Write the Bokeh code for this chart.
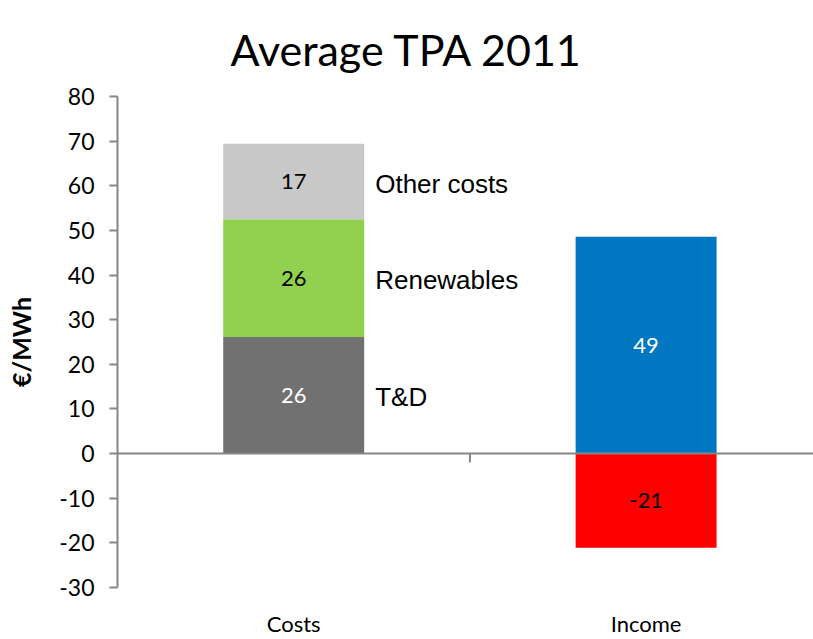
from bokeh.plotting import figure
from bokeh.models import Range1d, FixedTicker, Span, ColumnDataSource
from bokeh.core.properties import value
from bokeh.embed import file_html
from bokeh.resources import INLINE

# ---- data ----
title_text = "Average TPA 2011"
categories = ["Costs", "Income"]
cost_series = ["T&D", "Renewables", "Other costs"]
cost_values = [26.1, 26.4, 16.9]
cost_colors = ["#717171", "#92D050", "#C8C8C8"]
cost_label_colors = ["white", "black", "black"]
income_series = ["Income", "Negative"]
income_values = [48.6, -21.1]
income_colors = ["#0077C0", "#FF0000"]
income_label_colors = ["white", "black"]
y_ticks = list(range(-30, 90, 10))
y_label = "€/MWh"

cat_x = {c: i + 0.5 for i, c in enumerate(categories)}
bar_w = 0.4

p = figure(width=813, height=639, output_backend="svg", toolbar_location=None,
           x_range=Range1d(0, 1.975), y_range=Range1d(-30, 80),
           min_border_left=117, min_border_right=0, min_border_top=96,
           min_border_bottom=52, title=title_text)
p.outline_line_color = None
p.grid.visible = False

p.title.text_font = "Lato"
p.title.text_font_size = "43px"
p.title.text_font_style = "normal"
p.title.text_color = "black"
p.title.align = "left"
p.title.offset = 113
p.title.vertical_align = "top"
p.title.standoff = 40

# stacked costs
bottoms, tops = [], []
acc = 0
for v in cost_values:
    bottoms.append(acc)
    acc += v
    tops.append(acc)
src_c = ColumnDataSource(dict(
    x=[cat_x["Costs"]] * len(cost_values), bottom=bottoms, top=tops,
    color=cost_colors, mid=[(b + t) / 2 for b, t in zip(bottoms, tops)],
    lab=[str(round(v)) for v in cost_values], lc=cost_label_colors,
    name=cost_series))
p.vbar(x="x", bottom="bottom", top="top", width=bar_w, fill_color="color",
       line_color=None, source=src_c)
p.text(x="x", y="mid", text="lab", text_color="lc", text_align="center",
       text_baseline="middle", text_font=value("Lato"), text_font_size="22px",
       source=src_c)
src_n = ColumnDataSource(dict(x=[cat_x["Costs"] + bar_w / 2] * len(cost_values),
                              y=src_c.data["mid"], name=cost_series))
p.text(x="x", y="y", text="name", x_offset=11, y_offset=2, text_align="left",
       text_baseline="middle", text_font=value("Liberation Sans"),
       text_font_size="26px", text_color="black", source=src_n)

# income
src_i = ColumnDataSource(dict(
    x=[cat_x["Income"]] * len(income_values),
    bottom=[min(0, v) for v in income_values],
    top=[max(0, v) for v in income_values],
    mid=[v / 2 for v in income_values], color=income_colors,
    lab=[str(round(v)) for v in income_values], lc=income_label_colors))
p.vbar(x="x", bottom="bottom", top="top", width=bar_w, fill_color="color",
       line_color=None, source=src_i)
p.text(x="x", y="mid", text="lab", text_color="lc", text_align="center",
       text_baseline="middle", text_font=value("Lato"), text_font_size="22px",
       source=src_i)

# zero line and category divider tick
axis_color = "#868686"
p.add_layout(Span(location=0, dimension="width", line_color=axis_color, line_width=2))
p.segment(x0=[1.0], y0=[0], x1=[1.0], y1=[-2], line_color=axis_color, line_width=2)

# y axis
ya = p.yaxis[0]
ya.ticker = FixedTicker(ticks=y_ticks)
ya.major_label_overrides = {t: str(t) for t in y_ticks}
ya.axis_line_color = axis_color
ya.axis_line_width = 2
ya.major_tick_line_color = axis_color
ya.major_tick_line_width = 2
ya.major_tick_out = 8
ya.major_tick_in = 0
ya.minor_tick_line_color = None
ya.major_label_standoff = 15
ya.major_label_text_font = "Lato"
ya.major_label_text_font_size = "23px"
ya.major_label_text_color = "black"
ya.axis_label = y_label
ya.axis_label_text_font = "Lato"
ya.axis_label_text_font_style = "bold"
ya.axis_label_text_font_size = "25px"
ya.axis_label_text_color = "black"
ya.axis_label_standoff = 20

# x axis (category labels)
xa = p.xaxis[0]
xa.ticker = FixedTicker(ticks=[cat_x[c] for c in categories])
xa.major_label_overrides = {cat_x[c]: c for c in categories}
xa.axis_line_color = None
xa.major_tick_line_color = None
xa.major_tick_out = 0
xa.major_tick_in = 0
xa.minor_tick_line_color = None
xa.major_label_standoff = 22
xa.major_label_text_font = "Lato"
xa.major_label_text_font_size = "22px"
xa.major_label_text_color = "black"

open("out.html", "w").write(file_html(p, INLINE))
